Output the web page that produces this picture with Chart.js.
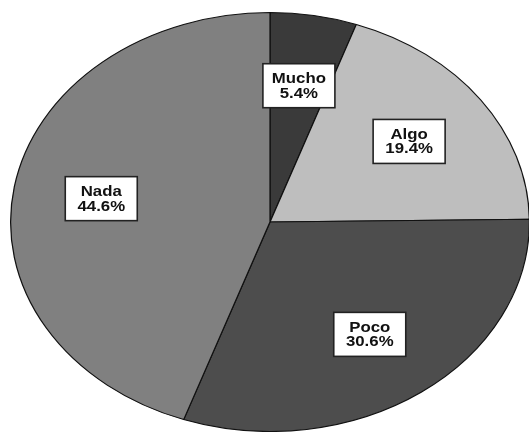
<!DOCTYPE html>
<html>
<head>
<meta charset="utf-8">
<script src="https://cdn.jsdelivr.net/npm/chart.js@4/dist/chart.umd.min.js"></script>
<style>
  html, body { margin: 0; padding: 0; background: #fff; }
  #pie { display: block; }
</style>
</head>
<body>
<canvas id="pie" width="529" height="432"></canvas>
<script>
var labels = ['Mucho', 'Algo', 'Poco', 'Nada'];
var values = [5.4, 19.4, 30.6, 44.6];
var colors = ['#3a3a3a', '#bebebe', '#4d4d4d', '#808080'];

// the original pie is stretched sideways into an ellipse
var stretchX = 260 / 210;
var labelPos = 0.66;

var ellipsePlugin = {
    id: 'ellipse',
    beforeDatasetsDraw: function (chart) {
        var arc = chart.getDatasetMeta(0).data[0];
        var ctx = chart.ctx;
        ctx.save();
        ctx.translate(arc.x, 0);
        ctx.scale(stretchX, 1);
        ctx.translate(-arc.x, 0);
    },
    afterDatasetsDraw: function (chart) {
        var ctx = chart.ctx;
        ctx.restore();
        var arcs = chart.getDatasetMeta(0).data;
        for (var i = 0; i < arcs.length; i++) {
            var a = arcs[i];
            var mid = (a.startAngle + a.endAngle) / 2;
            var r = a.outerRadius * labelPos;
            var px = a.x + Math.cos(mid) * r * stretchX;
            var py = a.y + Math.sin(mid) * r;
            var w = 72, h = 44;
            ctx.save();
            ctx.fillStyle = '#fff';
            ctx.fillRect(px - w / 2, py - h / 2, w, h);
            ctx.strokeStyle = '#222';
            ctx.lineWidth = 1.6;
            ctx.strokeRect(px - w / 2, py - h / 2, w, h);
            // text is stretched the same way as the pie
            ctx.translate(px, py);
            ctx.scale(1.2, 1);
            ctx.font = 'bold 14px "Liberation Sans", Arial, sans-serif';
            ctx.textAlign = 'center';
            ctx.textBaseline = 'middle';
            ctx.fillStyle = '#111';
            ctx.fillText(labels[i], 0, -6.5);
            ctx.fillText(values[i].toFixed(1) + '%', 0, 8);
            ctx.restore();
        }
    }
};

var ctx = document.getElementById('pie').getContext('2d');
var myChart = new Chart(ctx, {
    type: 'pie',
    data: {
        labels: labels,
        datasets: [{
            data: values,
            backgroundColor: colors,
            borderColor: '#111',
            borderWidth: 1,
            clip: false
        }]
    },
    options: {
        responsive: false,
        animation: false,
        events: [],
        layout: {
            padding: { top: 12, bottom: 0, left: 60, right: 49 }
        },
        plugins: {
            legend: { display: false },
            tooltip: { enabled: false }
        }
    },
    plugins: [ellipsePlugin]
});
</script>
</body>
</html>
